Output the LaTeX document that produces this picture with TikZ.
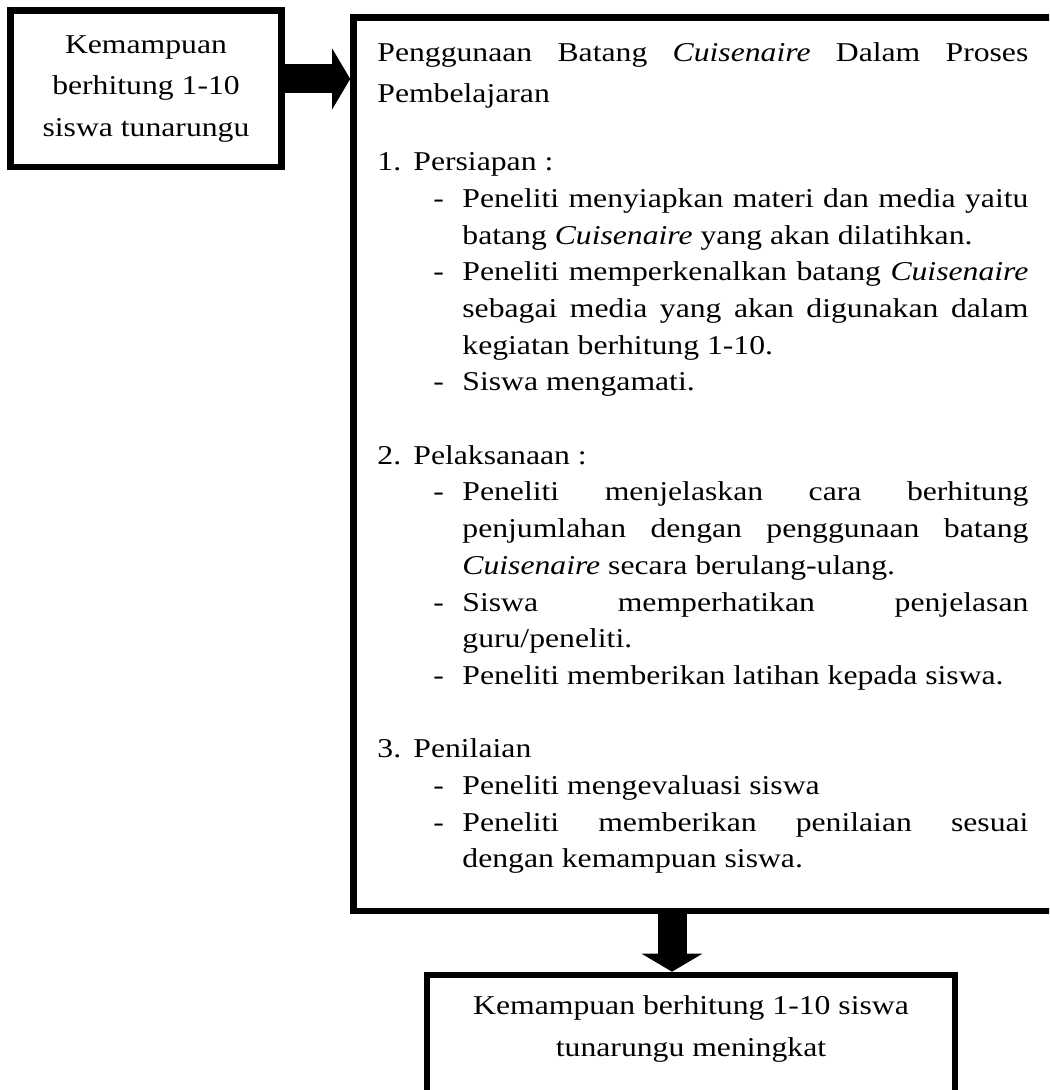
\documentclass[tikz,border=0pt]{standalone}
\usepackage{fontspec}
\setmainfont{Liberation Serif}[FakeStretch=1.165]
\usetikzlibrary{positioning}
\usetikzlibrary{arrows.meta}
\tolerance=10000
\hyphenpenalty=10000
\newcommand{\tahap}[2]{\par\noindent\makebox[18pt][l]{#1}#2\par}
\newcommand{\butir}[1]{\par\noindent\hangindent=42.5pt\hangafter=1\makebox[42.5pt][l]{\hspace{28pt}-}#1\par}

\begin{document}
\begin{tikzpicture}[x=0.5pt, y=-0.5pt,
  kotak/.style={draw, line width=3.3pt, inner sep=0pt},
  panah/.style={line width=14.5pt, -{Triangle[width=30pt, length=9pt]}},
  tengah/.style={align=center, inner sep=0pt, font=\fontsize{13.6}{20.75}\selectfont},
  daftar/.style={text width=325.5pt, align=justify, inner sep=0pt, font=\fontsize{13.6}{18.35}\selectfont}]
\path[use as bounding box] (0,0) rectangle (1049,1090);
\clip (0,0) rectangle (1049,1090);
\node[kotak, tengah, minimum width=135.5pt, minimum height=78.25pt]
  (awal)
  at (146, 88.75)
  {Kemampuan\\ berhitung 1-10\\ siswa tunarungu};
\node[kotak, minimum width=360pt, minimum height=446.75pt, anchor=north west]
  (media)
  at (350.2, 14.2)
  {};
\node[daftar, below right=14.1pt and 13.4pt of media.north west]
  (langkah)
  {{\fontsize{13.6}{20.5}\selectfont Penggunaan Batang \textit{Cuisenaire} Dalam Proses\linebreak Pembelajaran\par}
   \vspace{15.65pt}
   \tahap{1.}{Persiapan :}
   \butir{Peneliti menyiapkan materi dan media yaitu\linebreak batang \textit{Cuisenaire} yang akan dilatihkan.}
   \butir{Peneliti memperkenalkan batang \textit{Cuisenaire}\linebreak sebagai media yang akan digunakan dalam\linebreak kegiatan berhitung 1-10.}
   \butir{Siswa mengamati.}
   \vspace{18.35pt}
   \tahap{2.}{Pelaksanaan :}
   \butir{Peneliti menjelaskan cara berhitung\linebreak penjumlahan dengan penggunaan batang\linebreak \textit{Cuisenaire} secara berulang-ulang.}
   \butir{Siswa memperhatikan penjelasan\linebreak guru/peneliti.}
   \butir{Peneliti memberikan latihan kepada siswa.}
   \vspace{18.35pt}
   \tahap{3.}{Penilaian}
   \butir{Peneliti mengevaluasi siswa}
   \butir{Peneliti memberikan penilaian sesuai\linebreak dengan kemampuan siswa.}};
\node[kotak, minimum width=264pt, minimum height=150pt, anchor=north]
  (hasil)
  at (691, 971.7)
  {};
\node[tengah, below=11.85pt of hasil.north]
  (hasilteks)
  {Kemampuan berhitung 1-10 siswa\\ tunarungu meningkat};
\coordinate (kanan) at ([yshift=4.9pt]awal.east);
\draw[panah] (kanan) -- (kanan -| media.west);
\coordinate (bawah) at ([xshift=-9.5pt]hasil.north);
\draw[panah] (bawah |- media.south) -- (bawah);
\end{tikzpicture}
\end{document}
